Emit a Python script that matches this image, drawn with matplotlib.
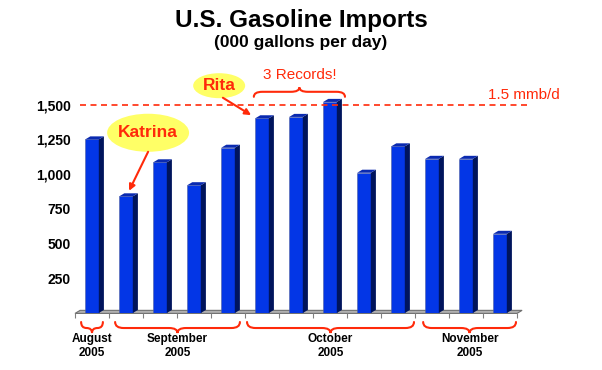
import numpy as np
import matplotlib
matplotlib.use("Agg")
import matplotlib.pyplot as plt
from matplotlib.patches import Polygon, Ellipse, PathPatch
from matplotlib.path import Path

plt.rcParams["font.family"] = ["Liberation Sans", "DejaVu Sans"]

# ── data ─────────────────────────────────────────────────────────────
imports = [1250, 840, 1085, 920, 1190, 1402, 1412, 1520,
           1010, 1200, 1110, 1110, 570]
month_labels = ["August\n2005", "September\n2005", "October\n2005", "November\n2005"]
month_spans = [(-0.32, 0.32), (0.68, 4.35), (4.56, 9.47), (9.74, 12.47)]
yticks = [250, 500, 750, 1000, 1250, 1500]
record_level = 1500

# ── style ────────────────────────────────────────────────────────────
FRONT = "#0336E6"
SIDE = "#00145C"
TOP = "#0A2AB0"
RED = "#FF2A0A"
BAR_W = 0.40
DX = 0.15      # 3d depth, x (data units)
DY = 22        # 3d depth, y (data units)
PX = 7.21      # data units per pixel, y


def brace(ax, x0, x1, y_end, y_mid, y_tip, lw=1.5):
    r = min(0.25, (x1 - x0) / 4)
    xc = (x0 + x1) / 2
    verts = [(x0, y_end), (x0, y_mid), (x0 + r, y_mid),
             (xc - r, y_mid),
             (xc, y_mid), (xc, y_tip),
             (xc, y_mid), (xc + r, y_mid),
             (x1 - r, y_mid),
             (x1, y_mid), (x1, y_end)]
    codes = [Path.MOVETO, Path.CURVE3, Path.CURVE3,
             Path.LINETO,
             Path.CURVE3, Path.CURVE3,
             Path.CURVE3, Path.CURVE3,
             Path.LINETO,
             Path.CURVE3, Path.CURVE3]
    ax.add_patch(PathPatch(Path(verts, codes), fc="none", ec=RED, lw=lw,
                           clip_on=False, capstyle="round"))


fig = plt.figure(figsize=(6.02, 3.70), dpi=100)
ax = fig.add_axes([75 / 602, 57 / 370, 442 / 602, 243 / 370])
ax.set_xlim(-0.5, 12.5)
ax.set_ylim(0, 1750)
for s in ax.spines.values():
    s.set_visible(False)
ax.set_xticks([])
ax.set_yticks(yticks)
ax.set_yticklabels([f"{v:,}" for v in yticks], fontsize=10, fontweight="bold")
ax.tick_params(axis="y", length=0, pad=3)

x = np.arange(len(imports))

# floor
ax.add_patch(Polygon([(-0.5, -3), (12.5, -3), (12.5 + DX, DY - 3), (-0.5 + DX, DY - 3)],
                     closed=True, fc="#B0B0B0", ec="#707070", lw=0.8, clip_on=False))
ax.vlines(np.arange(-0.5, 13), -3, -3 - 5 * PX, color="#808080", lw=0.8, clip_on=False)

# bars with 3d faces
ax.bar(x, imports, width=BAR_W, color=FRONT, edgecolor="#5060A0", lw=0.4, zorder=3)
for xi, v in zip(x, imports):
    r = xi + BAR_W / 2
    l = xi - BAR_W / 2
    ax.add_patch(Polygon([(r, 0), (r + DX, DY), (r + DX, v + DY), (r, v)],
                         closed=True, fc=SIDE, ec="none", zorder=3, clip_on=False))
    ax.add_patch(Polygon([(l, v), (r, v), (r + DX, v + DY), (l + DX, v + DY)],
                         closed=True, fc=TOP, ec="none", zorder=3, clip_on=False))

# 1.5 mmb/d line
ax.plot([-0.35, 12.79], [record_level, record_level], color=RED, lw=1.2,
        dashes=(3.6, 2.7), zorder=4, clip_on=False)
ax.text(11.65, record_level + 10 * PX, "1.5 mmb/d", color=RED, fontsize=11,
        ha="left", va="center")

# Katrina
ax.add_patch(Ellipse((1.65, 1298), 2.41, 274, fc="#FFFF66", ec="none", zorder=5, clip_on=False))
ax.text(1.65, 1298, "Katrina", color=RED, fontsize=12.5, fontweight="bold",
        ha="center", va="center", zorder=6)
ax.annotate("", xy=(1.09, 880), xytext=(1.65, 1161),
            arrowprops=dict(arrowstyle="-|>", color=RED, lw=1.5, mutation_scale=9,
                            shrinkA=0, shrinkB=0), zorder=6)

# Rita
ax.add_patch(Ellipse((3.74, 1637), 1.53, 180, fc="#FFFF66", ec="none", zorder=5, clip_on=False))
ax.text(3.74, 1637, "Rita", color=RED, fontsize=12.5, fontweight="bold",
        ha="center", va="center", zorder=6)
ax.annotate("", xy=(4.68, 1425), xytext=(3.85, 1550),
            arrowprops=dict(arrowstyle="-|>", color=RED, lw=1.5, mutation_scale=9,
                            shrinkA=0, shrinkB=0), zorder=6, annotation_clip=False)

# 3 Records!
brace(ax, 4.76, 7.44, 1557, 1593, 1625)
ax.text(6.12, 1716, "3 Records!", color=RED, fontsize=11, ha="center", va="center")

# month braces and labels
for (a, b), lab in zip(month_spans, month_labels):
    brace(ax, a, b, -9 * PX, -15 * PX, -20 * PX)
    ax.text((a + b) / 2, -33 * PX, lab, fontsize=8.5, fontweight="bold",
            ha="center", va="center", linespacing=1.15)

fig.text(0.5, 1 - 20 / 370, "U.S. Gasoline Imports", fontsize=17.5, fontweight="bold",
         ha="center", va="center")
fig.text(0.5, 1 - 43 / 370, "(000 gallons per day)", fontsize=12.5, fontweight="bold",
         ha="center", va="center")

fig.savefig("out.png", dpi=100)
